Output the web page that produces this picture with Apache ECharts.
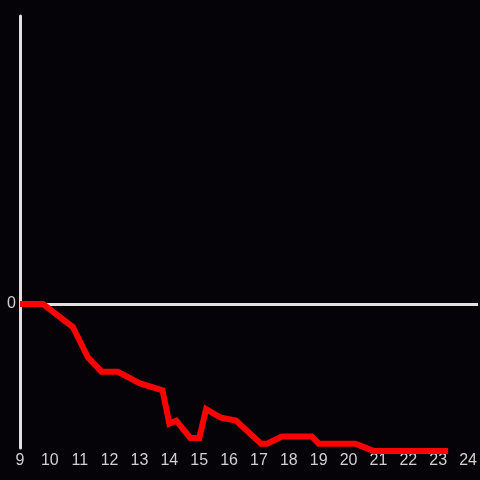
<!DOCTYPE html>
<html>
<head>
<meta charset="utf-8">
<script src="https://cdn.jsdelivr.net/npm/echarts@6/dist/echarts.min.js"></script>
<style>
html,body{margin:0;padding:0;background:#050308;}
#c{width:480px;height:480px;}
</style>
</head>
<body>
<div id="c"></div>
<script>
var xValues = [9, 9.77, 10.77, 11.27, 11.73, 12.27, 13, 13.77, 14, 14.23, 14.7, 15, 15.23, 15.73, 16.23, 16.7, 17.07, 17.27, 17.77, 18.77, 19, 20.23, 20.83, 23.33];
var yValues = [0, 0, -0.16, -0.37, -0.47, -0.47, -0.55, -0.6, -0.83, -0.81, -0.93, -0.93, -0.73, -0.79, -0.81, -0.9, -0.97, -0.97, -0.92, -0.92, -0.97, -0.97, -1.02, -1.02];
var xTickLabels = ['9','10','11','12','13','14','15','16','17','18','19','20','21','22','23','24'];

var data = xValues.map(function(x, i){ return [x, yValues[i]]; });
var chart = echarts.init(document.getElementById('c'), null, {renderer:'canvas'});
chart.setOption({
  backgroundColor: '#050308',
  animation: false,
  grid: {left: 20, right: 0, top: 16, bottom: 32, containLabel: false},
  xAxis: {
    type: 'value', min: 9, max: 24 + 1/3, interval: 1,
    axisLine: {show: false}, axisTick: {show: false}, splitLine: {show: false},
    axisLabel: {
      color: '#d0d0d0', fontSize: 16, margin: 5, fontFamily: 'Liberation Sans, Arial, sans-serif',
      showMaxLabel: false,
      formatter: function(v){ var i = xTickLabels.indexOf(String(v)); return i >= 0 ? xTickLabels[i] : ''; }
    }
  },
  yAxis: {
    type: 'value', min: -1, max: 2, interval: 1,
    axisLine: {show: true, lineStyle: {color: '#e0e0e0', width: 3}},
    axisTick: {show: false},
    splitLine: {show: true, lineStyle: {color: ['rgba(0,0,0,0)', '#e0e0e0', 'rgba(0,0,0,0)', 'rgba(0,0,0,0)'], width: 3}},
    axisLabel: {
      color: '#d0d0d0', fontSize: 16, margin: 4, padding: [4, 0, 0, 0], fontFamily: 'Liberation Sans, Arial, sans-serif',
      formatter: function(v){ return v === 0 ? '0' : ''; }
    }
  },
  series: [{
    type: 'line', data: data, showSymbol: false, symbol: 'none', clip: false,
    lineStyle: {color: '#ff0000', width: 6, cap: 'butt', join: 'miter'}
  }]
});
</script>
</body>
</html>
